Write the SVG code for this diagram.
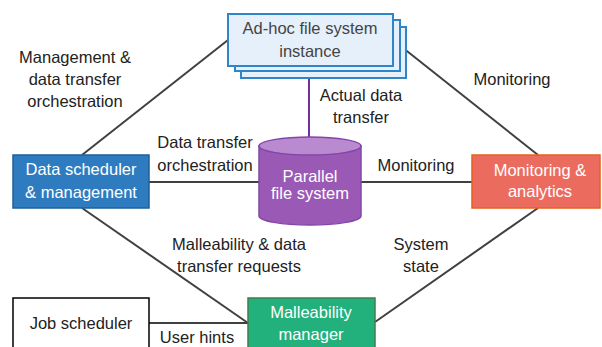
<svg xmlns="http://www.w3.org/2000/svg" width="602" height="347" viewBox="0 0 602 347">
<style>
.t{font-family:"Liberation Sans",Arial,sans-serif;font-size:16.5px;fill:#222;text-anchor:middle}
.w{fill:#fff}
.g{fill:#444}
.c{stroke:#404040;stroke-width:2;fill:none}
</style>
<rect width="602" height="347" fill="#fff"/>
<g id="connectors">
<line class="c" x1="82" y1="155" x2="228" y2="40"/>
<line class="c" x1="393" y1="40" x2="538" y2="155"/>
<line class="c" x1="149" y1="182" x2="259" y2="182"/>
<line class="c" x1="361" y1="182" x2="472" y2="182"/>
<line class="c" x1="82" y1="208" x2="248" y2="323"/>
<line class="c" x1="375" y1="322" x2="538" y2="208"/>
<line class="c" x1="149" y1="323" x2="248" y2="323"/>
<line x1="309" y1="66" x2="309" y2="138" stroke="#7030a0" stroke-width="2"/>
<text class="t" x="75" y="63">Management &amp;</text>
<text class="t" x="75" y="85">data transfer</text>
<text class="t" x="75" y="107">orchestration</text>
<text class="t" x="512" y="85">Monitoring</text>
<text class="t" x="361" y="101">Actual data</text>
<text class="t" x="361" y="123">transfer</text>
<text class="t" x="205" y="148">Data transfer</text>
<text class="t" x="205" y="171">orchestration</text>
<text class="t" x="416" y="171">Monitoring</text>
<text class="t" x="239" y="250">Malleability &amp; data</text>
<text class="t" x="239" y="272">transfer requests</text>
<text class="t" x="421" y="250">System</text>
<text class="t" x="421" y="272">state</text>
<text class="t" x="197" y="343">User hints</text>
</g>
<g id="adhoc">
<rect x="241" y="27" width="165" height="51" fill="#e6f0fa" stroke="#2e86c8" stroke-width="2"/>
<rect x="235" y="20" width="165" height="51" fill="#e6f0fa" stroke="#2e86c8" stroke-width="2"/>
<rect x="228" y="14" width="165" height="52" fill="#e6f0fa" stroke="#2e86c8" stroke-width="2"/>
<text class="t g" x="310" y="34">Ad-hoc file system</text>
<text class="t g" x="310" y="57">instance</text>
</g>
<g id="pfs">
<path d="M259,146 L259,216 A51,9 0 0 0 361,216 L361,146 Z" fill="#9b59b6" stroke="#8445a8" stroke-width="1.5"/>
<ellipse cx="310" cy="146" rx="51" ry="9" fill="#b98ad0" stroke="#8445a8" stroke-width="1.5"/>
<text class="t w" x="310" y="182">Parallel</text>
<text class="t w" x="310" y="199">file system</text>
</g>
<g id="datasched">
<rect x="13" y="155" width="136" height="53" fill="#2e7cbf" stroke="#1f5f99" stroke-width="1.5"/>
<text class="t w" x="81" y="175">Data scheduler</text>
<text class="t w" x="81" y="198">&amp; management</text>
</g>
<g id="monitor">
<rect x="472" y="155" width="128" height="53" fill="#ec6b5f" stroke="#e8601c" stroke-width="1.5"/>
<text class="t w" x="540" y="176">Monitoring &amp;</text>
<text class="t w" x="540" y="197">analytics</text>
</g>
<g id="jobsched">
<rect x="13" y="298" width="136" height="60" fill="#fff" stroke="#000" stroke-width="1.5"/>
<text class="t" x="81" y="329">Job scheduler</text>
</g>
<g id="malleability">
<rect x="248" y="298" width="127" height="60" fill="#22b07d" stroke="#3f7f4a" stroke-width="1.5"/>
<text class="t w" x="311" y="318">Malleability</text>
<text class="t w" x="311" y="340">manager</text>
</g>
</svg>
